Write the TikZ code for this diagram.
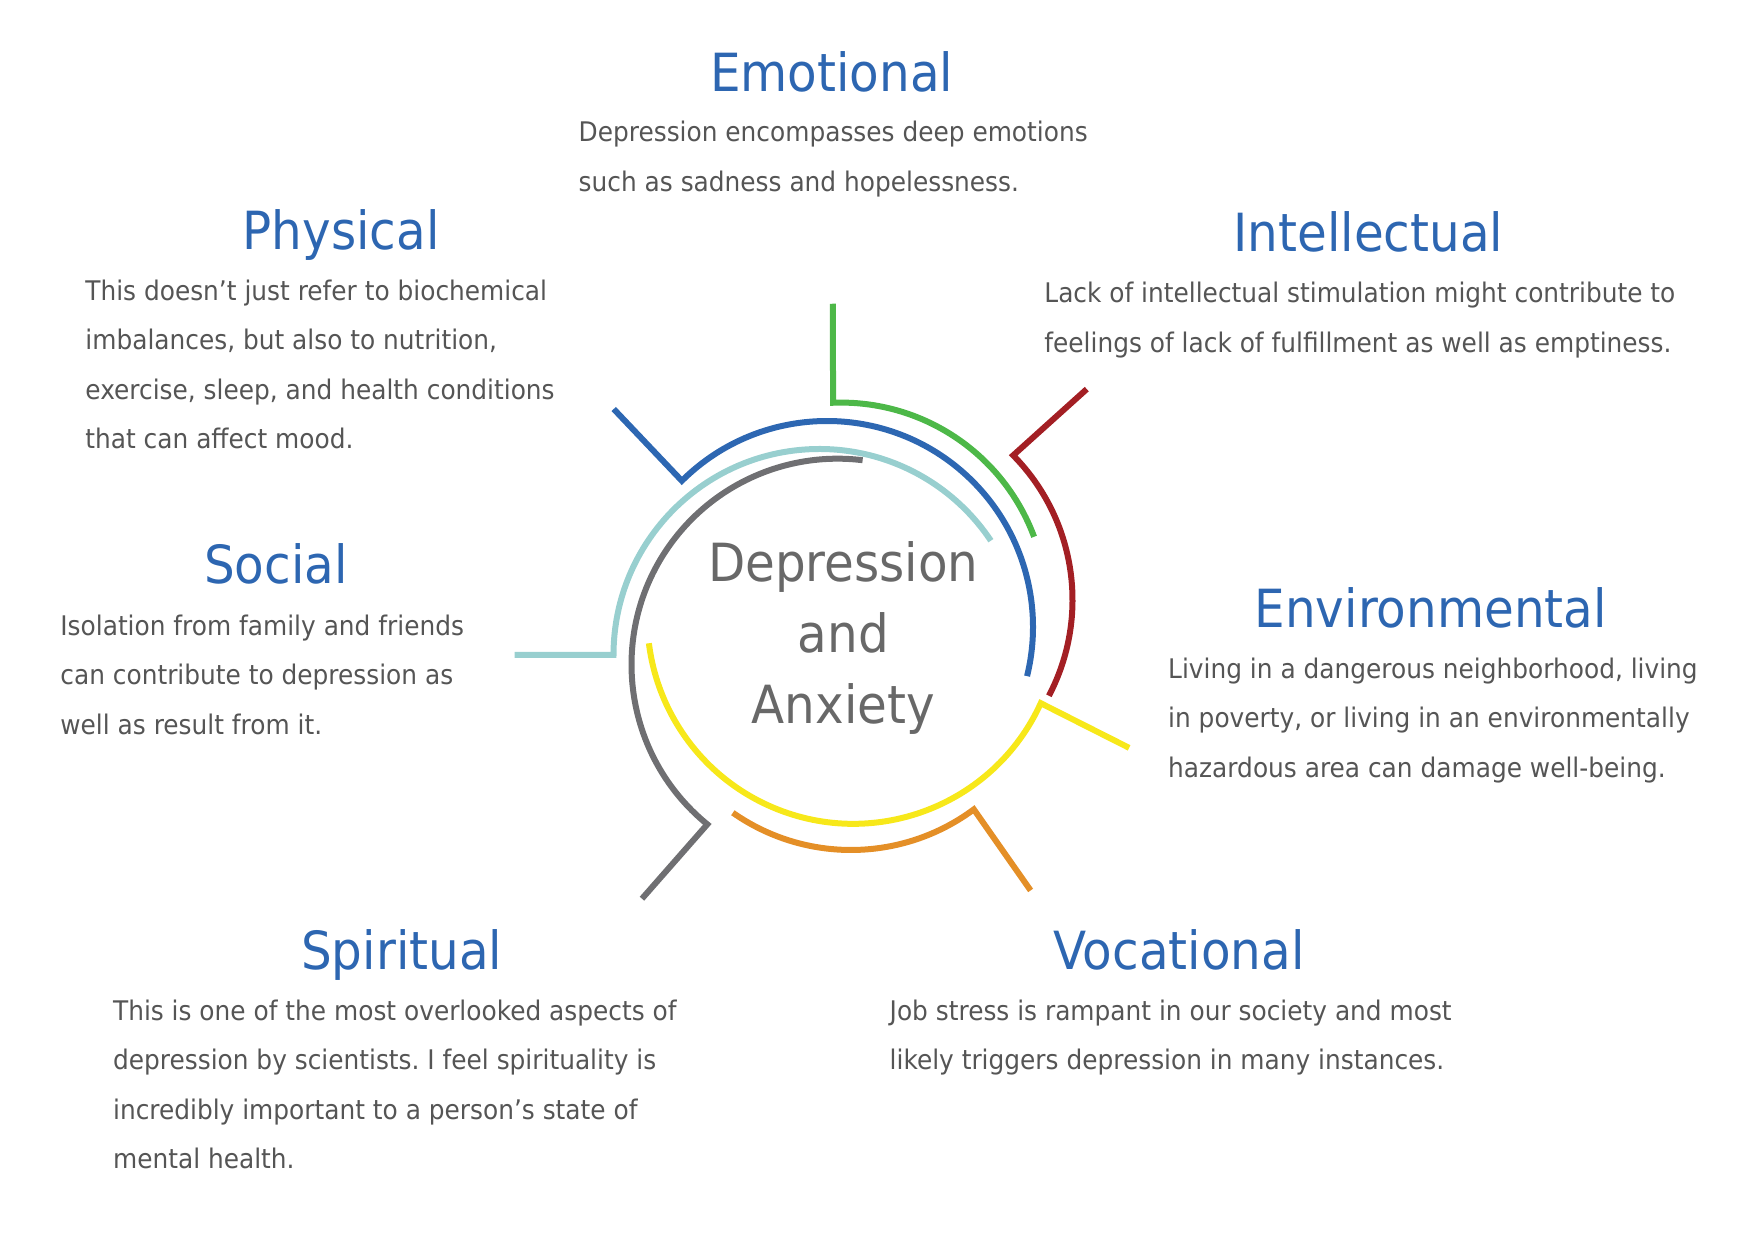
\documentclass[tikz,border=0pt]{standalone}
\usepackage{fontspec}
\setmainfont{DejaVu Sans}[FakeStretch=0.92]
\frenchspacing

\definecolor{titleblue}{HTML}{2D66B1}
\definecolor{bodygray}{HTML}{555555}
\definecolor{coregray}{HTML}{686868}
\definecolor{ringblue}{HTML}{2D67B2}
\definecolor{ringgreen}{HTML}{4DB848}
\definecolor{ringred}{HTML}{A31F24}
\definecolor{ringteal}{HTML}{98CFCF}
\definecolor{ringgray}{HTML}{6F6F72}
\definecolor{ringyellow}{HTML}{F7E81A}
\definecolor{ringorange}{HTML}{E48F27}

\tikzset{
  ring/.style={line width=3pt},
  dimtitle/.style={font=\fontsize{26.3}{30}\selectfont, text=titleblue,
                   anchor=base, inner sep=0pt},
  dimtext/.style={font=\fontsize{13.5}{24.8}\selectfont, text=bodygray,
                  align=left, anchor=north west, inner sep=0pt,
                  execute at begin node=\strut}
}

\begin{document}
\begin{tikzpicture}[x=0.5pt, y=0.5pt]
    \useasboundingbox (0,0) rectangle (1754,1241);

    % Arcos con su radio
    \foreach \cx/\cy/\a/\b/\s/\col in {
        827/614/134.8/-13.8/133.5/ringblue,
        841/632.4/92.2/20.4/90.2/ringgreen,
        866.5/641/44.6/-27.7/42/ringred,
        819.5/586/180/33.7/180/ringteal,
        837.5/576.3/230.8/83/228.7/ringgray,
        853.3/623.2/335.5/187.1/333.2/ringyellow,
        851/597/306.6/235/305/ringorange} {
      \draw[ring, draw=\col] (\cx,\cy) ++(\a:206) ++(\s:99) -- ++(\s:-99)
           arc[start angle=\a, end angle=\b, radius=206];
    }

    % Centro
    \node[font=\fontsize{26.3}{35.5}\selectfont, text=coregray, align=center,
          anchor=north, inner sep=0pt, execute at begin node=\strut]
         (core) at (843.3, 700) {Depression\\and\\Anxiety};

    % Emotional
    \node[dimtitle] (emotional) at (831.7, 1149.3) {Emotional};
    \node[dimtext] (emotionalText) at (578.3, 1120)
         {Depression encompasses deep emotions\\such as sadness and hopelessness.};

    % Physical
    \node[dimtitle] (physical) at (341.2, 991.8) {Physical};
    \node[dimtext] (physicalText) at (85, 961.9)
         {This doesn’t just refer to biochemical\\imbalances, but also to nutrition,\\exercise, sleep, and health conditions\\that can affect mood.};

    % Intellectual
    \node[dimtitle] (intellectual) at (1368.3, 989.3) {Intellectual};
    \node[dimtext] (intellectualText) at (1044, 959.4)
         {Lack of intellectual stimulation might contribute to\\feelings of lack of fulfillment as well as emptiness.};

    % Social
    \node[dimtitle] (social) at (275.8, 657) {Social};
    \node[dimtext] (socialText) at (60, 626.8)
         {Isolation from family and friends\\can contribute to depression as\\well as result from it.};

    % Environmental
    \node[dimtitle] (environmental) at (1430.7, 613.7) {Environmental};
    \node[dimtext] (environmentalText) at (1167.8, 583.8)
         {Living in a dangerous neighborhood, living\\in poverty, or living in an environmentally\\hazardous area can damage well-being.};

    % Spiritual
    \node[dimtitle] (spiritual) at (401.7, 271.7) {Spiritual};
    \node[dimtext] (spiritualText) at (112.7, 241.8)
         {This is one of the most overlooked aspects of\\depression by scientists. I feel spirituality is\\incredibly important to a person’s state of\\mental health.};

    % Vocational
    \node[dimtitle] (vocational) at (1179, 271.7) {Vocational};
    \node[dimtext] (vocationalText) at (889.3, 241.8)
         {Job stress is rampant in our society and most\\likely triggers depression in many instances.};
\end{tikzpicture}
\end{document}
